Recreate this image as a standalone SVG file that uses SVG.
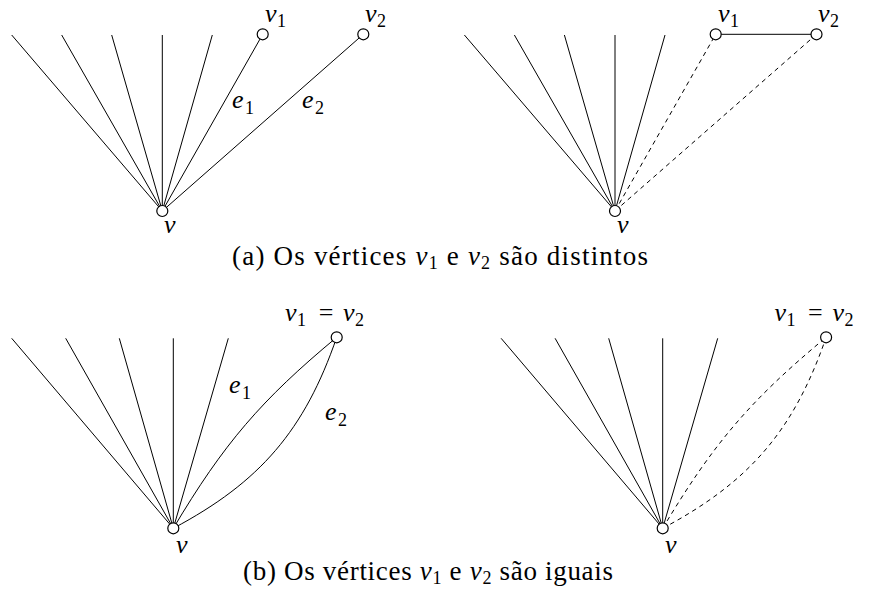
<svg xmlns="http://www.w3.org/2000/svg" width="869" height="605" viewBox="0 0 869 605">
<style>
.e{stroke:#000;stroke-width:1;fill:none}
.d{stroke:#000;stroke-width:1;fill:none;stroke-dasharray:4.5 4}
.n{stroke:#000;stroke-width:1.2;fill:#fff}
text{font-family:'Liberation Serif','Times New Roman',serif;fill:#000}
.m{font-style:italic;font-size:26px}
.s{font-size:18px}
.eq{font-size:26px;text-anchor:middle}
.c{font-size:27px}
.ci{font-style:italic}
.cs{font-size:18px}
</style>
<rect width="869" height="605" fill="#fff"/>
<g id="connectors">
  <line class="e" x1="162.3" y1="211" x2="11.7" y2="35"/>
  <line class="e" x1="162.3" y1="211" x2="61.7" y2="35"/>
  <line class="e" x1="162.3" y1="211" x2="111.7" y2="35"/>
  <line class="e" x1="162.3" y1="211" x2="162.3" y2="35"/>
  <line class="e" x1="162.3" y1="211" x2="212.3" y2="35"/>
  <line class="e" x1="162.3" y1="211" x2="262.7" y2="34.3"/>
  <line class="e" x1="162.3" y1="211" x2="363.3" y2="34.3"/>
  <line class="e" x1="615" y1="211" x2="464.4" y2="35"/>
  <line class="e" x1="615" y1="211" x2="514.4" y2="35"/>
  <line class="e" x1="615" y1="211" x2="564.4" y2="35"/>
  <line class="e" x1="615" y1="211" x2="615" y2="35"/>
  <line class="e" x1="615" y1="211" x2="665" y2="35"/>
  <line class="d" x1="615" y1="211" x2="715.7" y2="34.3"/>
  <line class="d" x1="615" y1="211" x2="816.5" y2="34.3"/>
  <line class="e" x1="715.7" y1="34.3" x2="816.5" y2="34.3"/>
  <line class="e" x1="173.3" y1="528.3" x2="11.7" y2="338.3"/>
  <line class="e" x1="173.3" y1="528.3" x2="65.7" y2="338.3"/>
  <line class="e" x1="173.3" y1="528.3" x2="119.3" y2="338.3"/>
  <line class="e" x1="173.3" y1="528.3" x2="173.3" y2="338.3"/>
  <line class="e" x1="173.3" y1="528.3" x2="228.3" y2="338.3"/>
  <path class="e" d="M173.3,528.3 C223.7,443.7 261,400.1 336.7,337.3"/>
  <path class="e" d="M173.3,528.3 C260.1,482.2 304.7,430.2 336.7,337.3"/>
  <line class="e" x1="662.7" y1="528.3" x2="501.1" y2="338.3"/>
  <line class="e" x1="662.7" y1="528.3" x2="555.1" y2="338.3"/>
  <line class="e" x1="662.7" y1="528.3" x2="608.7" y2="338.3"/>
  <line class="e" x1="662.7" y1="528.3" x2="662.7" y2="338.3"/>
  <line class="e" x1="662.7" y1="528.3" x2="717.7" y2="338.3"/>
  <path class="d" d="M662.7,528.3 C713.1,443.7 750.4,400.1 826.1,337.3"/>
  <path class="d" d="M662.7,528.3 C749.5,482.2 794.1,430.2 826.1,337.3"/>
  <text class="m" x="232" y="108">e</text><text class="s" x="245" y="114">1</text>
  <text class="m" x="302" y="108">e</text><text class="s" x="315" y="114">2</text>
  <text class="m" x="229" y="393">e</text><text class="s" x="242" y="399">1</text>
  <text class="m" x="325" y="420">e</text><text class="s" x="338" y="426">2</text>
</g>
<g id="node-a1-v"><circle class="n" cx="162.3" cy="211" r="5.5"/><text class="m" x="164" y="233">v</text></g>
<g id="node-a1-v1"><circle class="n" cx="262.7" cy="34.3" r="5.5"/><text class="m" x="265" y="22">v</text><text class="s" x="277" y="27">1</text></g>
<g id="node-a1-v2"><circle class="n" cx="363.3" cy="34.3" r="5.5"/><text class="m" x="365" y="22">v</text><text class="s" x="377" y="27">2</text></g>
<g id="node-a2-v"><circle class="n" cx="615" cy="211" r="5.5"/><text class="m" x="617" y="233">v</text></g>
<g id="node-a2-v1"><circle class="n" cx="715.7" cy="34.3" r="5.5"/><text class="m" x="718" y="22">v</text><text class="s" x="730" y="27">1</text></g>
<g id="node-a2-v2"><circle class="n" cx="816.5" cy="34.3" r="5.5"/><text class="m" x="818" y="22">v</text><text class="s" x="830" y="27">2</text></g>
<g id="node-b1-v"><circle class="n" cx="173.3" cy="528.3" r="5.5"/><text class="m" x="176" y="553">v</text></g>
<g id="node-b1-v12"><circle class="n" cx="336.7" cy="337.3" r="5.5"/><text class="m" x="285" y="321">v</text><text class="s" x="297" y="326">1</text><text class="eq" x="326" y="321">=</text><text class="m" x="343" y="321">v</text><text class="s" x="355" y="326">2</text></g>
<g id="node-b2-v"><circle class="n" cx="662.7" cy="528.3" r="5.5"/><text class="m" x="665" y="553">v</text></g>
<g id="node-b2-v12"><circle class="n" cx="826.1" cy="337.3" r="5.5"/><text class="m" x="774.4" y="321">v</text><text class="s" x="786.4" y="326">1</text><text class="eq" x="815.4" y="321">=</text><text class="m" x="832.4" y="321">v</text><text class="s" x="844.4" y="326">2</text></g>
<g id="captions">
  <text class="c" x="232" y="265" textLength="416" lengthAdjust="spacing">(a) Os vértices <tspan class="ci">v</tspan><tspan class="cs" dy="4">1</tspan><tspan dy="-4"> e </tspan><tspan class="ci">v</tspan><tspan class="cs" dy="4">2</tspan><tspan dy="-4"> são distintos</tspan></text>
  <text class="c" x="243" y="580" textLength="370" lengthAdjust="spacing">(b) Os vértices <tspan class="ci">v</tspan><tspan class="cs" dy="4">1</tspan><tspan dy="-4"> e </tspan><tspan class="ci">v</tspan><tspan class="cs" dy="4">2</tspan><tspan dy="-4"> são iguais</tspan></text>
</g>
</svg>
